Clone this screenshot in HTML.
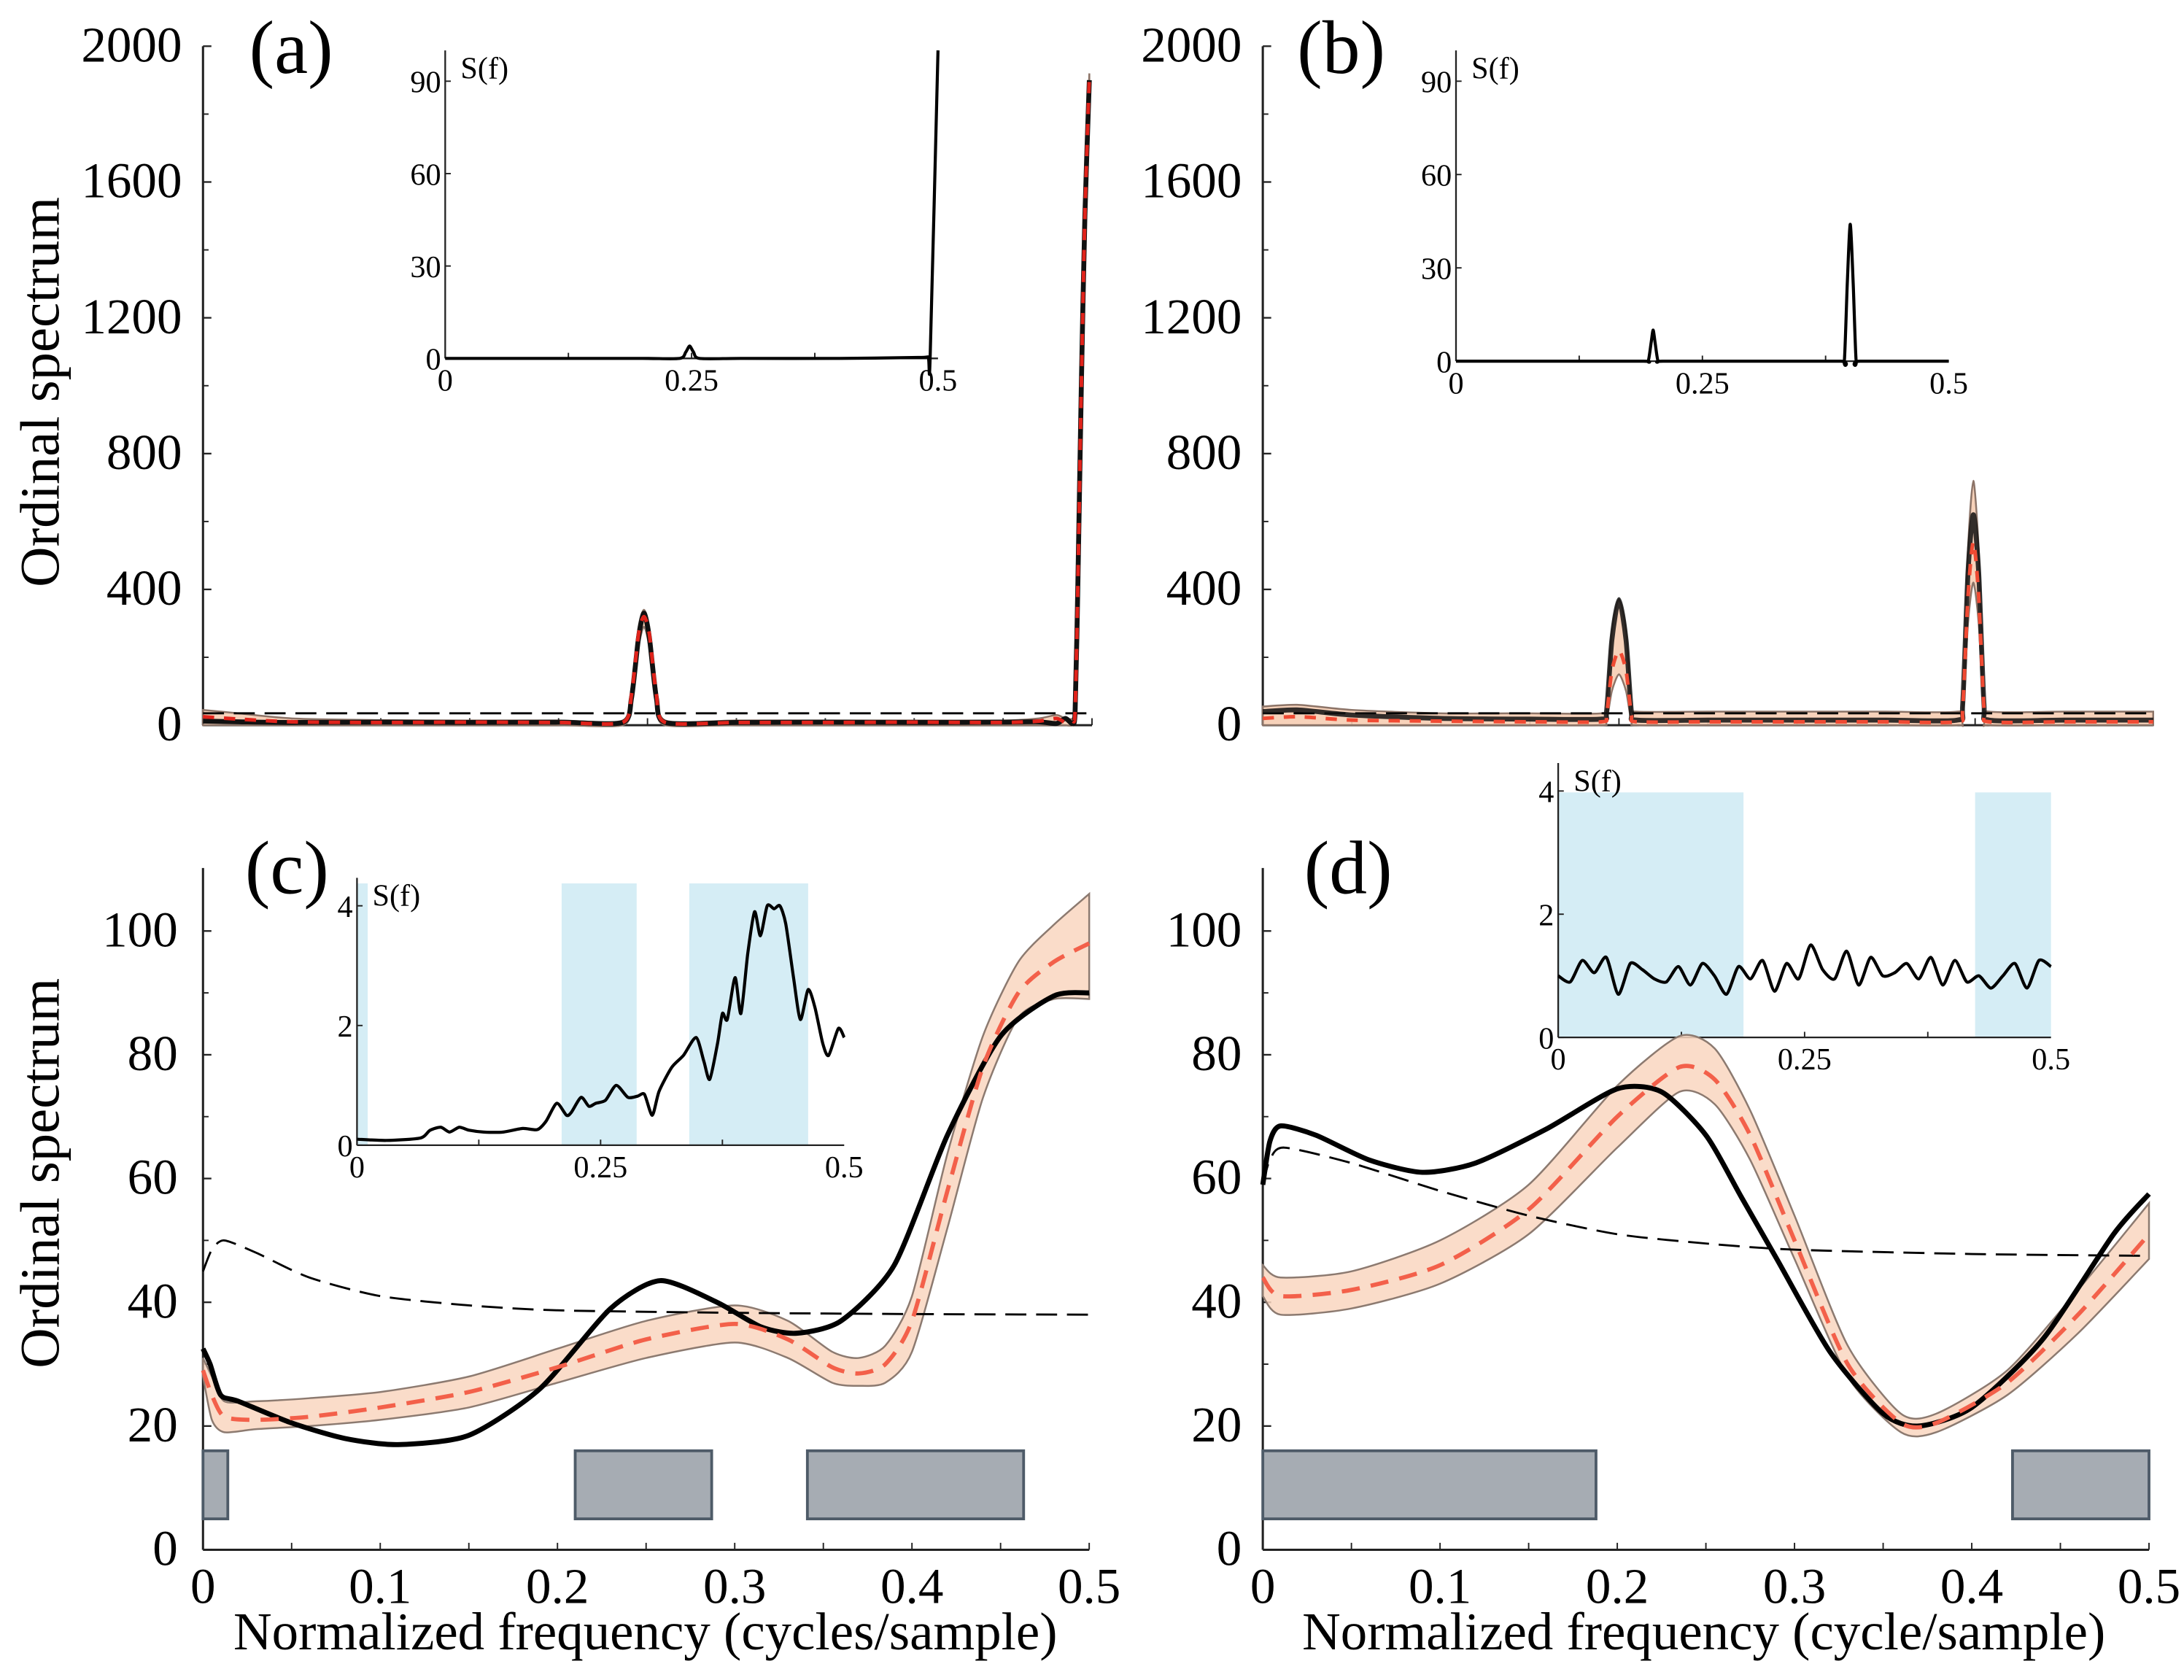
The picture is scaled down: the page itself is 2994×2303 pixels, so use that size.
<!DOCTYPE html>
<html><head><meta charset="utf-8">
<style>
html,body{margin:0;padding:0;background:#fff;}
svg{display:block;}
text{font-family:"Liberation Serif",serif;fill:#000;}
</style></head>
<body>
<svg id="fig" xmlns="http://www.w3.org/2000/svg" width="2994" height="2303" viewBox="0 0 1560 1200" preserveAspectRatio="none">
<g id="root"></g>
</svg>
<script>
// ---------------- DATA ----------------
const xTicks = [0, 0.1, 0.2, 0.3, 0.4, 0.5];
const xTickLabels = ["0","0.1","0.2","0.3","0.4","0.5"];
const yTicksTop = [0, 400, 800, 1200, 1600, 2000];
const yTicksBottom = [0, 20, 40, 60, 80, 100];

// panel a
const aBlackF = [0,0.02,0.05,0.1,0.15,0.2,0.236,0.241,0.245,0.248,0.251,0.255,0.26,0.3,0.35,0.4,0.45,0.47,0.48,0.485,0.489,0.4905,0.492,0.494,0.496,0.4985];
const aBlackV = [12,10,8,9,8,9,8,80,260,330,260,80,8,8,9,8,9,10,5,20,5,40,400,1000,1500,1900];
const aRedV   = [25,18,10,8,9,8,8,90,270,320,270,90,8,8,8,9,8,12,20,8,12,40,400,1000,1500,1910];
const aBandLo = [0,0,0,0,0,0,0,60,230,290,230,60,0,0,0,0,0,0,0,0,0,30,380,980,1480,1880];
const aBandHi = [45,35,20,15,14,14,14,110,290,340,290,110,14,14,14,14,14,20,30,20,20,60,420,1020,1520,1920];
const aThresh = 35;

// panel b
const bF     = [0,0.02,0.05,0.1,0.15,0.19,0.193,0.196,0.2,0.204,0.207,0.21,0.25,0.3,0.35,0.39,0.393,0.396,0.399,0.402,0.405,0.408,0.45,0.5];
const bBlackV= [40,45,30,20,18,18,40,250,370,250,40,15,15,15,15,15,60,450,620,450,60,15,15,15];
const bRedV  = [20,25,15,12,10,10,30,160,220,160,30,10,10,10,10,10,50,380,540,380,50,10,10,10];
const bBandLo= [0,0,0,0,0,0,10,100,150,100,10,0,0,0,0,0,20,300,420,300,20,0,0,0];
const bBandHi= [55,60,45,35,35,35,60,280,370,280,60,40,40,40,40,40,80,520,720,520,80,40,40,40];
const bThresh = 35;

// panel c
const cBlackF = [0,0.004,0.01,0.02,0.05,0.08,0.11,0.15,0.19,0.23,0.258,0.29,0.315,0.335,0.36,0.39,0.42,0.45,0.48,0.5];
const cBlackV = [32.5,30,25,24,20.5,18,17,18.5,26,39,43.5,40,36,35,37,46,67,83,89.5,90];
const cRedF   = [0,0.005,0.012,0.03,0.06,0.1,0.15,0.2,0.25,0.3,0.33,0.355,0.37,0.385,0.4,0.42,0.44,0.46,0.48,0.5];
const cRedV   = [29,25,21.5,21,21.5,23,25.5,29.5,34,36.5,34,29.5,28.5,30,37,58,78,90,95,98];
const cBandLo = [28,21,19,19.5,20,21,23,27,31,33.5,31,27,26.5,27,32,52,73,86,89,89];
const cBandHi = [31,28,24,24,24.5,25.5,28,32.5,37,39.5,37,32,31,33,41,64,83,95,101,106];
const cThreshF = [0,0.005,0.012,0.03,0.06,0.1,0.15,0.2,0.3,0.4,0.5];
const cThreshV = [45,48.5,50,48,44,41,39.5,38.7,38.3,38.1,38];
const cBoxes = [[0,0.014],[0.21,0.287],[0.341,0.463]];

// panel d
const dBlackF = [0,0.004,0.01,0.03,0.06,0.09,0.12,0.16,0.2,0.225,0.25,0.27,0.29,0.32,0.35,0.37,0.4,0.44,0.48,0.5];
const dBlackV = [59,66,68.5,67,63,61,62.5,68,74.5,74,67,57,47,32,22,20,23,34,51,57.5];
const dRedF   = [0,0.01,0.05,0.1,0.15,0.2,0.235,0.255,0.275,0.3,0.33,0.36,0.38,0.42,0.46,0.5];
const dRedV   = [44,41,42,46,55,70,78,76,67,50,30,20.5,20.5,27,38,51];
const dBandLo = [41,38,39,43,51,65,74,72,63,47,28,19,19,25,35,47];
const dBandHi = [46,44,45,50,59,75,83,81,71,54,33,22,22,29,42,56];
const dThreshF = [0,0.004,0.012,0.05,0.1,0.15,0.2,0.25,0.3,0.4,0.5];
const dThreshV = [59,63,65,62.5,58,54,51,49.5,48.5,47.8,47.5];
const dBoxes = [[0,0.188],[0.423,0.5]];

// insets
const insATicksY = [0,30,60,90];
const insAF = [0,0.1,0.2,0.238,0.244,0.248,0.252,0.258,0.3,0.4,0.48,0.49,0.492,0.5];
const insAV = [0,0,0,0,2,4,2,0,0,0,0.3,0.5,0,100];
const insBF = [0,0.1,0.19,0.195,0.198,0.2,0.202,0.205,0.21,0.3,0.39,0.394,0.397,0.4,0.403,0.406,0.41,0.5];
const insBV = [0,0,0,0,6,10,6,0,0,0,0,0,25,44,25,0,0,0];
const insCF = [0,0.03,0.065,0.075,0.086,0.095,0.105,0.115,0.13,0.15,0.17,0.185,0.194,0.205,0.215,0.22,0.23,0.238,0.245,0.255,0.266,0.278,0.288,0.295,0.303,0.31,0.323,0.335,0.348,0.356,0.362,0.37,0.375,0.38,0.388,0.394,0.401,0.408,0.414,0.421,0.428,0.434,0.44,0.448,0.455,0.463,0.47,0.478,0.484,0.494,0.5];
const insCV = [0.1,0.08,0.12,0.25,0.3,0.22,0.3,0.25,0.22,0.22,0.28,0.26,0.4,0.7,0.5,0.55,0.8,0.65,0.7,0.75,1.0,0.8,0.82,0.85,0.5,0.9,1.3,1.5,1.8,1.4,1.1,1.7,2.2,2.1,2.8,2.2,3.2,3.9,3.5,4.0,3.95,4.0,3.7,2.8,2.1,2.6,2.3,1.7,1.5,1.95,1.8];
const insDV = [1.0,0.9,1.25,1.05,1.3,0.7,1.2,1.1,0.95,0.9,1.15,0.85,1.2,1.0,0.7,1.15,0.95,1.25,0.75,1.2,0.95,1.5,1.1,0.95,1.4,0.85,1.3,1.0,1.05,1.2,0.95,1.3,0.85,1.25,0.9,1.0,0.8,1.0,1.2,0.8,1.25,1.15];
const insBandsC = [[0,0.011],[0.21,0.287],[0.341,0.463]];
const insBandsD = [[0,0.188],[0.423,0.5]];

// ---------------- DRAWING ----------------
const NS = "http://www.w3.org/2000/svg";
const root = document.getElementById('root');
function el(tag, attrs, parent, txt){
  const e = document.createElementNS(NS, tag);
  for (const k in attrs) e.setAttribute(k, attrs[k]);
  if (txt !== undefined) e.textContent = txt;
  (parent||root).appendChild(e);
  return e;
}
function axis(px0, px1, fmax, py0, py1, vmax){
  return { x: f => px0 + (f/fmax)*(px1-px0), y: v => py0 - (v/vmax)*(py0-py1) };
}
function smooth(pts){
  let d = "M" + pts[0][0].toFixed(2) + "," + pts[0][1].toFixed(2);
  for (let i=0;i<pts.length-1;i++){
    const p0=pts[Math.max(0,i-1)], p1=pts[i], p2=pts[i+1], p3=pts[Math.min(pts.length-1,i+2)];
    const t=0.12;
    const c1=[p1[0]+(p2[0]-p0[0])*t, p1[1]+(p2[1]-p0[1])*t];
    const c2=[p2[0]-(p3[0]-p1[0])*t, p2[1]-(p3[1]-p1[1])*t];
    d += " C"+c1[0].toFixed(2)+","+c1[1].toFixed(2)+" "+c2[0].toFixed(2)+","+c2[1].toFixed(2)+" "+p2[0].toFixed(2)+","+p2[1].toFixed(2);
  }
  return d;
}
function pts(ax, F, V){ return F.map((f,i)=>[ax.x(f), ax.y(V[i])]); }
function line(ax,F,V,style,name,g){
  const p = el('path', Object.assign({d:smooth(pts(ax,F,V)), fill:'none'}, style), g);
  
  
  return p;
}
function band(ax,F,lo,hi,style,name,g){
  const up = pts(ax,F,hi), dn = pts(ax,F,lo).reverse();
  const d = smooth(up) + " L" + dn[0][0]+","+dn[0][1] + smooth(dn).replace(/^M[^C]*/,'') + " Z";
  const p = el('path', Object.assign({d:d}, style), g);
  
  
}
function frame(ax, px0, px1, pyBase, pyTop, yTicks, showXLabels, labelX, g, tickFs){
  const a = el('line',{x1:px0,y1:pyTop,x2:px0,y2:pyBase,stroke:'#222','stroke-width':1.6},g);
  
  
  const b = el('line',{x1:px0,y1:pyBase,x2:px1,y2:pyBase,stroke:'#222','stroke-width':1.6},g);
  
  
  yTicks.forEach((v,i)=>{
    const y = ax.y(v);
    el('line',{x1:px0,y1:y,x2:px0+6,y2:y,stroke:'#222','stroke-width':1.2},g);
    if (i < yTicks.length-1){
      const ym = (y + ax.y(yTicks[i+1]))/2;
      el('line',{x1:px0,y1:ym,x2:px0+4,y2:ym,stroke:'#222','stroke-width':1},g);
    }
    const t = el('text',{x:labelX,y:y+11,'text-anchor':'end','font-size':tickFs},g,String(v));
    
    
  });
  for (let f=0; f<=0.5001; f+=0.05){
    const x = ax.x(f);
    el('line',{x1:x,y1:pyBase,x2:x,y2:pyBase-5,stroke:'#222','stroke-width':1},g);
  }
  if (showXLabels){
    xTicks.forEach((f,i)=>{
      const t = el('text',{x:ax.x(f),y:pyBase+38,'text-anchor':'middle','font-size':36},g,xTickLabels[i]);
      
      
    });
  }
}
function inset(px0,px1,py0,pyTop,vmax,yTicks,F,V,bands,g,bandTop){
  const ax = axis(px0,px1,0.5,py0,pyTop,vmax);
  if (bands){
    bands.forEach(b=>{
      const r = el('rect',{x:ax.x(b[0]),y:bandTop,width:ax.x(b[1])-ax.x(b[0]),height:py0-bandTop,fill:'#d5edf5'},g);
      
      
    });
  }
  const top = bandTop!==undefined ? Math.min(bandTop, ax.y(yTicks[yTicks.length-1])-20) : ax.y(yTicks[yTicks.length-1])-22;
  el('line',{x1:px0,y1:top,x2:px0,y2:py0,stroke:'#222','stroke-width':1.2},g);
  el('line',{x1:px0,y1:py0,x2:px1,y2:py0,stroke:'#222','stroke-width':1.2},g);
  yTicks.forEach((v,i)=>{
    const y = ax.y(v);
    el('line',{x1:px0,y1:y,x2:px0+4,y2:y,stroke:'#222','stroke-width':1},g);
    const t = el('text',{x:px0-3,y:y+8,'text-anchor':'end','font-size':22},g,String(v));
    
    
  });
  [0,0.25,0.5].forEach((f,i)=>{
    const t = el('text',{x:ax.x(f),y:py0+23,'text-anchor':'middle','font-size':22},g,["0","0.25","0.5"][i]);
    
    
  });
  [0.125,0.25,0.375].forEach(f=>el('line',{x1:ax.x(f),y1:py0,x2:ax.x(f),y2:py0-4,stroke:'#222','stroke-width':1},g));
  const s = el('text',{x:px0+11,y:top+20,'font-size':22},g,'S(f)');
  
  
  line(ax,F,V,{stroke:'#000','stroke-width':2.2},'inset-spectrum-line',g);
}
function label(x,y,txt,fs,name,rot){
  const t = el('text',{x:x,y:y,'font-size':fs,'text-anchor':'middle',transform: rot?('rotate(-90 '+x+' '+y+')'):''},root,txt);
  
  
}

const bandStyleTop = {fill:'#f6cdb3',stroke:'#8c7468','stroke-width':1.3,'fill-opacity':0.9};
const bandStyle = {fill:'#f9d6bf',stroke:'#8c7a70','stroke-width':1.3,'fill-opacity':0.85};
const threshStyle = {stroke:'#000','stroke-width':1.5,'stroke-dasharray':'15 7'};

// Panel A
{
  const g = el('g',{});  
  const ax = axis(145,780,0.5,518,33,2000);
  inset(318,670,256,58,90,insATicksY,insAF,insAV,null,g);
  frame(ax,145,780,518,33,yTicksTop,false,130,g,36);
  band(ax,aBlackF,aBandLo,aBandHi,bandStyleTop,'uncertainty-band-a',g);
  const tl = el('line',{x1:ax.x(0),y1:ax.y(aThresh),x2:ax.x(0.5),y2:ax.y(aThresh)},g); for(const k in threshStyle) tl.setAttribute(k,threshStyle[k]);
   
  line(ax,aBlackF,aBlackV,{stroke:'#111','stroke-width':3.5},'spectrum-line-a',g);
  line(ax,aBlackF,aRedV,{stroke:'#e0231b','stroke-width':2.6,'stroke-dasharray':'8 7'},'mean-line-a',g);
}
// Panel B
{
  const g = el('g',{});  
  const ax = axis(902,1538,0.5,518,33,2000);
  inset(1040,1392,258,58,90,insATicksY,insBF,insBV,null,g);
  frame(ax,902,1538,518,33,yTicksTop,false,887,g,36);
  band(ax,bF,bBandLo,bBandHi,bandStyleTop,'uncertainty-band-b',g);
  const tl = el('line',{x1:ax.x(0),y1:ax.y(bThresh),x2:ax.x(0.5),y2:ax.y(bThresh)},g); for(const k in threshStyle) tl.setAttribute(k,threshStyle[k]);
   
  line(ax,bF,bBlackV,{stroke:'#111','stroke-width':3.5,'stroke-opacity':0.85},'spectrum-line-b',g);
  line(ax,bF,bRedV,{stroke:'#f04a33','stroke-width':2.6,'stroke-dasharray':'8 7'},'mean-line-b',g);
}
// Panel C
{
  const g = el('g',{});  
  const ax = axis(145,778,0.5,1107,665,100);
  frame(ax,145,778,1107,620,yTicksBottom,true,127,g,36);
  cBoxes.forEach(b=>{
    const r = el('rect',{x:ax.x(b[0]),y:ax.y(16),width:ax.x(b[1])-ax.x(b[0]),height:ax.y(5)-ax.y(16),fill:'#a6acb3',stroke:'#4e5b68','stroke-width':2},g);
     
  });
  inset(255,603,818,647,4,[0,2,4],insCF,insCV,insBandsC,g,631);
  band(ax,cRedF,cBandLo,cBandHi,bandStyle,'uncertainty-band-c',g);
  line(ax,cThreshF,cThreshV,threshStyle,'threshold-line-c',g);
  line(ax,cBlackF,cBlackV,{stroke:'#000','stroke-width':3.6},'spectrum-line-c',g);
  line(ax,cRedF,cRedV,{stroke:'#f3604a','stroke-width':3,'stroke-dasharray':'13 8'},'mean-line-c',g);
}
// Panel D
{
  const g = el('g',{});  
  const ax = axis(902,1535,0.5,1107,665,100);
  frame(ax,902,1535,1107,620,yTicksBottom,true,887,g,36);
  dBoxes.forEach(b=>{
    const r = el('rect',{x:ax.x(b[0]),y:ax.y(16),width:ax.x(b[1])-ax.x(b[0]),height:ax.y(5)-ax.y(16),fill:'#a6acb3',stroke:'#4e5b68','stroke-width':2},g);
     
  });
  const insDF = insDV.map((v,i)=>i*0.5/(insDV.length-1));
  inset(1113,1465,741,565,4,[0,2,4],insDF,insDV,insBandsD,g,566);
  band(ax,dRedF,dBandLo,dBandHi,bandStyle,'uncertainty-band-d',g);
  line(ax,dThreshF,dThreshV,threshStyle,'threshold-line-d',g);
  line(ax,dBlackF,dBlackV,{stroke:'#000','stroke-width':3.6},'spectrum-line-d',g);
  line(ax,dRedF,dRedV,{stroke:'#f3604a','stroke-width':3,'stroke-dasharray':'13 8'},'mean-line-d',g);
}
label(208,52,'(a)',54,'panel-label-a');
label(958,52,'(b)',54,'panel-label-b');
label(205,638,'(c)',54,'panel-label-c');
label(963,638,'(d)',54,'panel-label-d');
label(42,280,'Ordinal spectrum',40,'y-axis-title-top',true);
label(42,838,'Ordinal spectrum',40,'y-axis-title-bottom',true);
label(461,1178,'Normalized frequency (cycles/sample)',38,'x-axis-title-c');
label(1217,1178,'Normalized frequency (cycle/sample)',38,'x-axis-title-d');
</script>
</body></html>
